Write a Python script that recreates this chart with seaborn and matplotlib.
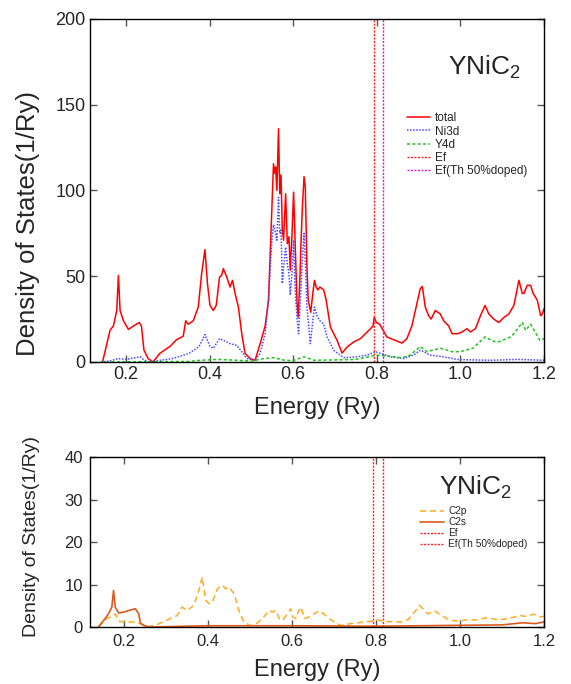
import numpy as np
import matplotlib.pyplot as plt
import seaborn as sns

# ---- top panel: total / Ni3d / Y4d DOS ----
e_total = [0.144, 0.162, 0.170, 0.178, 0.182, 0.186, 0.194, 0.206, 0.218, 0.232, 0.237, 0.243,
           0.253, 0.265, 0.281, 0.305, 0.321, 0.337, 0.343, 0.349, 0.361, 0.373, 0.381, 0.389,
           0.395, 0.401, 0.409, 0.416, 0.424, 0.429, 0.433, 0.441, 0.449, 0.455, 0.461, 0.469,
           0.477, 0.485, 0.497, 0.509, 0.521, 0.533, 0.541, 0.549, 0.553, 0.556, 0.558, 0.561,
           0.565, 0.568, 0.571, 0.574, 0.577, 0.582, 0.586, 0.590, 0.593, 0.597, 0.601, 0.604,
           0.609, 0.612, 0.616, 0.619, 0.622, 0.626, 0.629, 0.633, 0.636, 0.642, 0.647, 0.651,
           0.655, 0.659, 0.664, 0.673, 0.679, 0.689, 0.705, 0.717, 0.729, 0.745, 0.761, 0.773,
           0.785, 0.791, 0.794, 0.799, 0.807, 0.815, 0.824, 0.840, 0.860, 0.872, 0.884, 0.896,
           0.904, 0.909, 0.916, 0.924, 0.930, 0.940, 0.952, 0.960, 0.972, 0.980, 0.994, 1.004,
           1.016, 1.024, 1.036, 1.048, 1.059, 1.068, 1.080, 1.092, 1.104, 1.116, 1.128, 1.140,
           1.148, 1.152, 1.160, 1.168, 1.174, 1.184, 1.192, 1.196, 1.200]
dos_total = [0, 18.5, 21, 30, 50.5, 30, 24, 19, 21, 23, 21, 7,
             2, 0, 5, 9, 13, 15, 24, 22, 24, 32, 51.5, 65.5,
             45.7, 33, 30, 33, 49.6, 50.5, 54.4, 49.6, 43.7, 47.6, 40, 32,
             16.5, 5, 2, 1, 10.7, 21, 36, 90, 115.6, 110, 113.7, 100,
             136, 98, 109, 77, 71, 98, 69, 73, 53.5, 73, 99, 75,
             36, 26, 47.6, 71, 90, 108, 102, 55, 36, 29, 40, 47.6,
             43.7, 42, 43.7, 42, 36, 20.4, 12.6, 5.2, 8.7, 11.7, 13.6, 16.5,
             19.4, 21, 26, 23, 22, 18.5, 14.6, 13, 11, 13.6, 21, 34,
             42.8, 44, 32, 27, 25, 30, 28, 24, 21, 16.5, 16.5, 17.5,
             19.4, 17.5, 19.4, 27, 33, 28, 25, 23, 26, 28, 33, 47.6,
             40, 40, 44.7, 44.7, 40, 36, 27, 28, 31]

e_ni3d = [0.140, 0.160, 0.182, 0.200, 0.234, 0.244, 0.255, 0.311, 0.351, 0.375, 0.389, 0.401,
          0.409, 0.424, 0.433, 0.449, 0.465, 0.477, 0.489, 0.509, 0.521, 0.533, 0.541, 0.549,
          0.553, 0.558, 0.561, 0.565, 0.568, 0.571, 0.574, 0.577, 0.582, 0.586, 0.590, 0.593,
          0.597, 0.601, 0.604, 0.609, 0.613, 0.617, 0.622, 0.626, 0.629, 0.633, 0.641, 0.647,
          0.651, 0.657, 0.664, 0.673, 0.681, 0.697, 0.721, 0.753, 0.777, 0.797, 0.809, 0.833,
          0.864, 0.888, 0.904, 0.912, 0.928, 0.960, 0.994, 1.073, 1.137, 1.200]
dos_ni3d = [0, 0.5, 2, 1.5, 3, 1, 0, 2, 5, 9, 16, 9,
            8, 13.6, 12.6, 10.7, 9.7, 6, 2, 1, 5, 16.5, 36, 71,
            80, 75, 71, 96, 75, 77, 45.7, 55, 67, 57, 51.5, 39,
            51.5, 71, 45.7, 26, 16.5, 36, 59, 75, 59, 32, 10.7, 24,
            32, 27, 24, 22, 14.6, 6.8, 2.5, 3, 4, 6, 5, 3,
            2, 4, 6.8, 6, 4, 3, 1.4, 1, 1.5, 1]

e_y4d = [0.14, 0.35, 0.38, 0.42, 0.45, 0.50, 0.53, 0.553, 0.58, 0.60, 0.626, 0.65,
         0.70, 0.75, 0.78, 0.80, 0.84, 0.86, 0.88, 0.904, 0.92, 0.952, 0.98, 1.0,
         1.03, 1.059, 1.08, 1.091, 1.12, 1.13, 1.148, 1.156, 1.168, 1.18, 1.19, 1.2]
dos_y4d = [0, 0.3, 1, 1.5, 1.2, 0.5, 2, 2.5, 1, 0.8, 3, 1,
           1.2, 1.5, 3, 4, 3, 2.5, 4, 9, 6, 8, 6, 6,
           8, 14.6, 12, 11.7, 14.6, 17, 23, 18.5, 22, 17, 12.6, 13.6]

# ---- bottom panel: C2p / C2s ----
e_c2p = [0.140, 0.160, 0.176, 0.180, 0.188, 0.200, 0.224, 0.240, 0.256, 0.280, 0.311, 0.327,
         0.339, 0.351, 0.367, 0.379, 0.387, 0.395, 0.403, 0.411, 0.423, 0.435, 0.443, 0.451,
         0.463, 0.474, 0.486, 0.502, 0.518, 0.534, 0.546, 0.554, 0.562, 0.570, 0.578, 0.590,
         0.598, 0.602, 0.610, 0.615, 0.622, 0.630, 0.642, 0.653, 0.665, 0.677, 0.689, 0.705,
         0.717, 0.741, 0.773, 0.793, 0.801, 0.821, 0.860, 0.876, 0.892, 0.904, 0.912, 0.924,
         0.940, 0.956, 0.976, 0.996, 1.019, 1.043, 1.063, 1.091, 1.115, 1.143, 1.155, 1.175,
         1.191, 1.200]
dos_c2p = [0, 2, 2.7, 3.1, 1.4, 1.2, 1.2, 0.8, 0, 0.6, 2, 2.7,
           4.7, 3.9, 5.1, 8.6, 11.8, 6.3, 5.5, 5.9, 9, 9.8, 9, 9.4,
           7.8, 3.9, 1.2, 0.3, 0.9, 2.4, 3.9, 3.5, 3.9, 2, 1.6, 3.1,
           4.3, 2.4, 2, 3.5, 4.7, 2, 2.4, 3.1, 3.8, 3, 2, 0.9,
           0.4, 0.8, 1.2, 1.4, 1.7, 1.3, 1.2, 1.7, 3.5, 5.1, 4.3, 3.1,
           3.8, 2.7, 1.6, 1.4, 1.7, 1.7, 2.2, 1.7, 2, 2.7, 2.5, 3,
           2.4, 2.5]

e_c2s = [0.140, 0.156, 0.164, 0.172, 0.176, 0.180, 0.188, 0.200, 0.212, 0.228, 0.236, 0.240,
         0.248, 0.260, 0.40, 0.60, 0.80, 1.00, 1.10, 1.15, 1.18, 1.20]
dos_c2s = [0, 2, 3.1, 4.7, 8.6, 4.7, 3.3, 3.5, 3.9, 4.3, 3.1, 0.9,
           0.4, 0, 0.3, 0.3, 0.2, 0.4, 0.5, 1.0, 0.8, 1.2]

ef = 0.794
ef_doped = 0.816

sns.set_style('ticks')
plt.rcParams['font.family'] = ['Liberation Sans', 'DejaVu Sans']
plt.rcParams['mathtext.default'] = 'regular'

fig = plt.figure(figsize=(5.71, 6.84), dpi=100)
ax1 = fig.add_axes([0.1576, 0.4708, 0.7951, 0.5015])
ax2 = fig.add_axes([0.1576, 0.0833, 0.7951, 0.2485])

# top panel
sns.lineplot(x=e_total, y=dos_total, ax=ax1, color='#ff0000', lw=1.1,
             estimator=None, sort=False, label='total')
sns.lineplot(x=e_ni3d, y=dos_ni3d, ax=ax1, color='#4a4aff', lw=1.1, linestyle=(0, (1, 1)),
             estimator=None, sort=False, label='Ni3d')
sns.lineplot(x=e_y4d, y=dos_y4d, ax=ax1, color='#22c422', lw=1.1, linestyle=(0, (2, 1.5)),
             estimator=None, sort=False, label='Y4d')
ax1.axvline(ef, color='#ff2020', lw=1.0, linestyle=(0, (1.5, 1)), label='Ef')
ax1.axvline(ef_doped, color='#cc22cc', lw=1.0, linestyle=(0, (1.5, 1)), label='Ef(Th 50%doped)')

ax1.set_xlim(0.114, 1.2)
ax1.set_ylim(0, 200)
ax1.set_xticks([0.2, 0.4, 0.6, 0.8, 1.0, 1.2])
ax1.set_yticks([0, 50, 100, 150, 200])
ax1.set_xlabel('Energy (Ry)', fontsize=17, labelpad=10)
ax1.set_ylabel('Density of States(1/Ry)', fontsize=18.5)
ax1.yaxis.set_label_coords(-0.11, 0.405)
ax1.text(0.87, 0.86, 'YNiC$_2$', transform=ax1.transAxes, fontsize=19, ha='center', va='center')
ax1.legend(loc='upper left', bbox_to_anchor=(0.685, 0.745), frameon=False, fontsize=8.5,
           borderpad=0, labelspacing=0.1, handlelength=2.0, handletextpad=0.4)

# bottom panel
sns.lineplot(x=e_c2p, y=dos_c2p, ax=ax2, color='#ffaa22', lw=1.1, linestyle=(0, (4, 2.5)),
             estimator=None, sort=False, label='C2p')
sns.lineplot(x=e_c2s, y=dos_c2s, ax=ax2, color='#dd5a1e', lw=1.2,
             estimator=None, sort=False, label='C2s')
ax2.axvline(ef, color='#ff2020', lw=1.0, linestyle=(0, (1.5, 1)), label='Ef')
ax2.axvline(ef_doped, color='#ff2020', lw=1.0, linestyle=(0, (1.5, 1)), label='Ef(Th 50%doped)')

ax2.set_xlim(0.12, 1.2)
ax2.set_ylim(0, 40)
ax2.set_xticks([0.2, 0.4, 0.6, 0.8, 1.0, 1.2])
ax2.set_yticks([0, 10, 20, 30, 40])
ax2.set_xlabel('Energy (Ry)', fontsize=17, labelpad=7)
ax2.set_ylabel('Density of States(1/Ry)', fontsize=14)
ax2.yaxis.set_label_coords(-0.11, 0.53)
ax2.text(0.85, 0.82, 'YNiC$_2$', transform=ax2.transAxes, fontsize=19, ha='center', va='center')
ax2.legend(loc='upper left', bbox_to_anchor=(0.715, 0.74), frameon=False, fontsize=7.3,
           borderpad=0, labelspacing=0.1, handlelength=2.4, handletextpad=0.4)

for ax, fs, pd in [(ax1, 13, 3), (ax2, 12, 5)]:
    ax.tick_params(direction='in', length=5, width=1, color='#555555', top=True, right=True,
                   labelsize=fs, pad=pd)
    for sp in ax.spines.values():
        sp.set_visible(True)
        sp.set_color('black')
        sp.set_linewidth(1.0)

fig.savefig('out.png', dpi=100)
